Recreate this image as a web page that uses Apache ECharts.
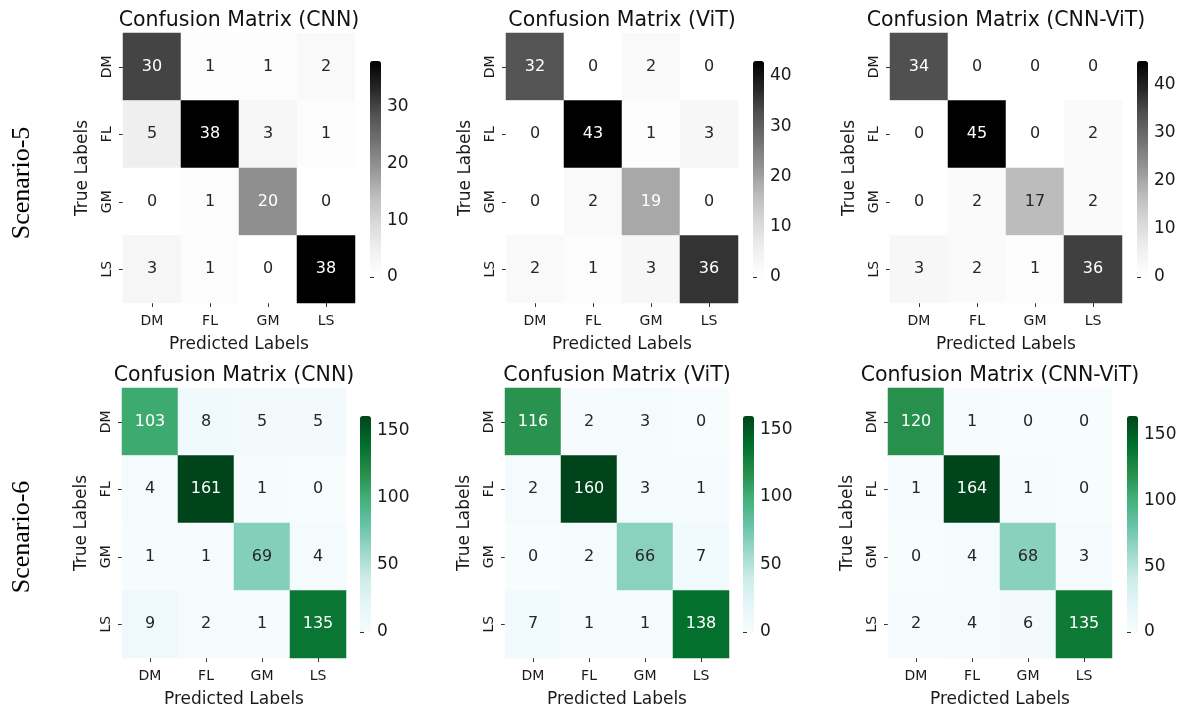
<!DOCTYPE html>
<html><head><meta charset="utf-8">
<script src="https://cdn.jsdelivr.net/npm/echarts@6/dist/echarts.min.js"></script>
<style>html,body{margin:0;padding:0;background:#fff}#c{width:1184px;height:709px}</style>
</head><body><div id="c"></div>
<script>
// ---- data ----
const categories = ['DM', 'FL', 'GM', 'LS'];
const modelTitles = ['Confusion Matrix (CNN)', 'Confusion Matrix (ViT)', 'Confusion Matrix (CNN-ViT)'];
const scenarioNames = ['Scenario-5', 'Scenario-6'];
const xAxisTitle = 'Predicted Labels';
const yAxisTitle = 'True Labels';

const s5_cnn = [[30, 1, 1, 2], [5, 38, 3, 1], [0, 1, 20, 0], [3, 1, 0, 38]];
const s5_vit = [[32, 0, 2, 0], [0, 43, 1, 3], [0, 2, 19, 0], [2, 1, 3, 36]];
const s5_hyb = [[34, 0, 0, 0], [0, 45, 0, 2], [0, 2, 17, 2], [3, 2, 1, 36]];
const s6_cnn = [[103, 8, 5, 5], [4, 161, 1, 0], [1, 1, 69, 4], [9, 2, 1, 135]];
const s6_vit = [[116, 2, 3, 0], [2, 160, 3, 1], [0, 2, 66, 7], [7, 1, 1, 138]];
const s6_hyb = [[120, 1, 0, 0], [1, 164, 1, 0], [0, 4, 68, 3], [2, 4, 6, 135]];

const cbTicks_s5_cnn = [0, 10, 20, 30];
const cbTicks_s5_vit = [0, 10, 20, 30, 40];
const cbTicks_s5_hyb = [0, 10, 20, 30, 40];
const cbTicks_s6 = [0, 50, 100, 150];

// ---- styles ----
const Greys = ['#ffffff', '#f0f0f0', '#d9d9d9', '#bdbdbd', '#969696', '#737373', '#525252', '#252525', '#000000'];
const BuGn = ['#f7fcfd', '#e5f5f9', '#ccece6', '#99d8c9', '#66c2a4', '#41ae76', '#238b45', '#006d2c', '#00441b'];
const FONT = 'DejaVu Sans';

const rows = [
  { top: 33, h: 270, cbTop: 61, cbH: 216, lefts: [123, 506, 890], w: 232, cbLefts: [370, 753, 1137], cmap: Greys,
    mats: [s5_cnn, s5_vit, s5_hyb], ticks: [cbTicks_s5_cnn, cbTicks_s5_vit, cbTicks_s5_hyb], labelY: 183 },
  { top: 388, h: 270, cbTop: 416, cbH: 216, lefts: [122, 505, 888], w: 224, cbLefts: [360, 743, 1127], cmap: BuGn,
    mats: [s6_cnn, s6_vit, s6_hyb], ticks: [cbTicks_s6, cbTicks_s6, cbTicks_s6], labelY: 537 }
];

function hex2rgb(h) { return [1, 3, 5].map(i => parseInt(h.substr(i, 2), 16) / 255); }
function cmapAt(cmap, t) {
  const n = cmap.length - 1; const p = Math.max(0, Math.min(1, t)) * n;
  const i = Math.min(n - 1, Math.floor(p)); const f = p - i;
  const a = hex2rgb(cmap[i]), b = hex2rgb(cmap[i + 1]);
  return a.map((v, k) => v + (b[k] - v) * f);
}
function lum(rgb) {
  const l = rgb.map(c => c <= 0.03928 ? c / 12.92 : Math.pow((c + 0.055) / 1.055, 2.4));
  return 0.2126 * l[0] + 0.7152 * l[1] + 0.0722 * l[2];
}

const grid = [], xAxis = [], yAxis = [], series = [], visualMap = [], graphic = [];
let gi = 0;
rows.forEach((row, r) => {
  graphic.push({ type: 'text', x: 22, y: row.labelY, rotation: Math.PI / 2,
    style: { text: scenarioNames[r], font: '26px "Liberation Serif"', fill: '#000', textAlign: 'center', textVerticalAlign: 'middle' } });
  row.mats.forEach((m, c) => {
    const vmax = Math.max(...m.flat());
    const left = row.lefts[c];
    grid.push({ left: left, top: row.top, width: row.w, height: row.h });
    xAxis.push({ type: 'category', gridIndex: gi, data: categories, position: 'bottom',
      axisLine: { show: false }, splitLine: { show: false },
      axisTick: { show: true, alignWithLabel: true, length: 4, lineStyle: { color: '#333', width: 1 } },
      axisLabel: { fontFamily: FONT, fontSize: 14, color: '#1a1a1a', margin: 11 },
      name: xAxisTitle, nameLocation: 'middle', nameGap: 33,
      nameTextStyle: { fontFamily: FONT, fontSize: 17, color: '#1a1a1a' } });
    yAxis.push({ type: 'category', gridIndex: gi, data: categories, inverse: true,
      axisLine: { show: false }, splitLine: { show: false },
      axisTick: { show: true, alignWithLabel: true, length: 4, lineStyle: { color: '#333', width: 1 } },
      axisLabel: { fontFamily: FONT, fontSize: 14, color: '#1a1a1a', rotate: 90, margin: 9 },
      name: yAxisTitle, nameLocation: 'middle', nameGap: 32,
      nameTextStyle: { fontFamily: FONT, fontSize: 17, color: '#1a1a1a' } });
    const data = [];
    m.forEach((rowv, yi) => rowv.forEach((v, xi) => {
      const txt = lum(cmapAt(row.cmap, v / vmax)) < 0.408 ? '#ffffff' : '#262626';
      data.push({ value: [xi, yi, v], label: { color: txt } });
    }));
    const sIdx = series.length;
    series.push({ type: 'heatmap', xAxisIndex: gi, yAxisIndex: gi, data: data,
      label: { show: true, fontFamily: FONT, fontSize: 16 },
      itemStyle: { borderWidth: 0 }, emphasis: { disabled: true } });
    visualMap.push({ type: 'continuous', seriesIndex: sIdx, dimension: 2, min: 0, max: vmax,
      calculable: false, orient: 'vertical', left: row.cbLefts[c], top: row.cbTop,
      itemWidth: 11, itemHeight: row.cbH, padding: 0, text: null, hoverLink: false,
      inRange: { color: row.cmap } });
    graphic.push({ type: 'text', x: left + row.w / 2, y: row.top - 12,
      style: { text: modelTitles[c], font: '20.5px "' + FONT + '"', fill: '#111', textAlign: 'center', textVerticalAlign: 'middle' } });
    gi++;
    grid.push({ left: row.cbLefts[c], top: row.cbTop, width: 11, height: row.cbH });
    xAxis.push({ type: 'value', gridIndex: gi, show: false, min: 0, max: 1 });
    yAxis.push({ type: 'value', gridIndex: gi, min: 0, max: vmax, position: 'right',
      axisLine: { show: false }, splitLine: { show: false },
      axisTick: { show: true, length: 4, customValues: row.ticks[c], lineStyle: { color: '#333', width: 1 } },
      axisLabel: { fontFamily: FONT, fontSize: 17, color: '#1a1a1a', margin: 6, customValues: row.ticks[c] } });
    gi++;
  });
});

const chart = echarts.init(document.getElementById('c'), null, { renderer: 'canvas' });
chart.setOption({ backgroundColor: '#fff', animation: false, grid, xAxis, yAxis, series, visualMap, graphic });
</script></body></html>
